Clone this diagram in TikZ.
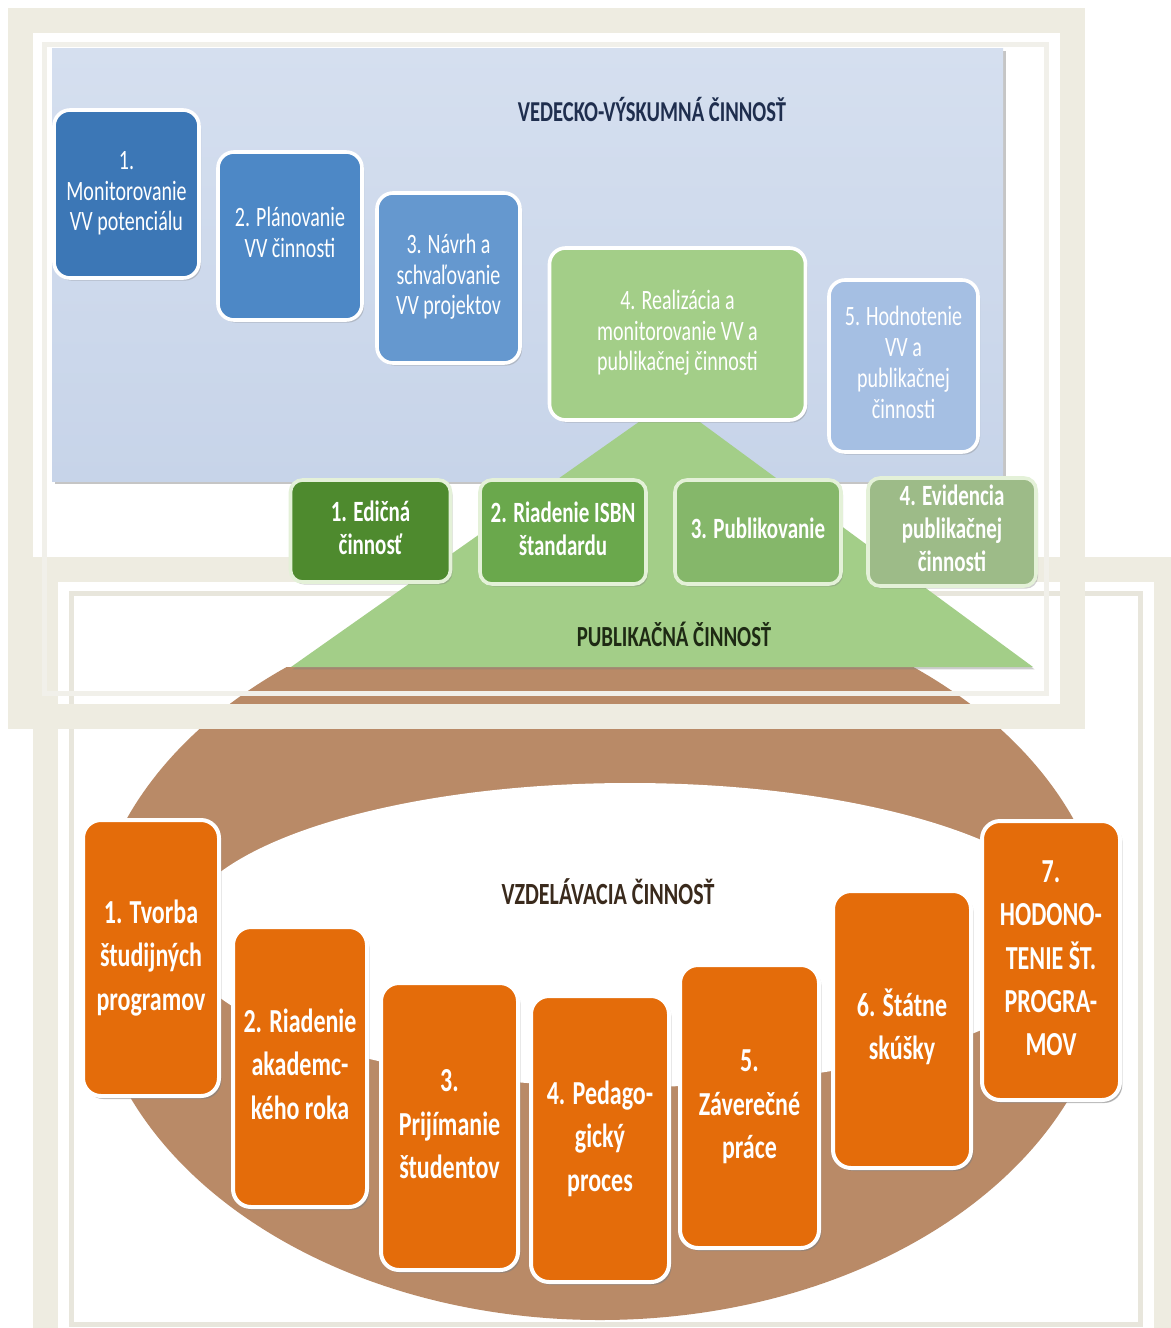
\documentclass[tikz,border=0pt]{standalone}
\usepackage{fontspec}
\setmainfont{Carlito}
\usepackage{graphicx}
\usetikzlibrary{shadows}
\definecolor{cream}{HTML}{EEECE1}
\definecolor{creamline}{HTML}{E8E6DC}
\definecolor{panelA}{HTML}{D5DFEF}
\definecolor{panelB}{HTML}{C7D4E9}
\definecolor{blueA}{HTML}{3C77B6}
\definecolor{blueB}{HTML}{4D88C6}
\definecolor{blueC}{HTML}{6598CF}
\definecolor{blueE}{HTML}{A5BFE3}
\definecolor{lgreen}{HTML}{A3CE88}
\definecolor{pubA}{HTML}{4E8A2E}
\definecolor{pubB}{HTML}{6AA84C}
\definecolor{pubC}{HTML}{85B76A}
\definecolor{pubD}{HTML}{9DBB88}
\definecolor{publine}{HTML}{E4F1D8}
\definecolor{ringbrown}{HTML}{B98A67}
\definecolor{orangebox}{HTML}{E46C0A}
\definecolor{navytxt}{HTML}{1F2E4E}
\definecolor{greentxt}{HTML}{1E2A14}
\definecolor{browntxt}{HTML}{3A2A1C}
\newcommand{\btxt}[4]{\scalebox{1}[#1]{\fontsize{#2}{#3}\selectfont\begin{tabular}{@{}c@{}}#4\end{tabular}}}
\begin{document}
\begin{tikzpicture}[x=0.5pt,y=-0.5pt,
  bx/.style={rounded corners=8pt, draw=white, line width=1.8pt, text=white, inner sep=0pt,
    drop shadow={shadow xshift=1pt, shadow yshift=-1.3pt, opacity=0.35}},
  bluebx/.style={bx},
  pubbx/.style={bx, draw=publine, rounded corners=6pt},
  orbx/.style={bx, fill=orangebox, rounded corners=9pt, line width=2pt,
    drop shadow={shadow xshift=1.2pt, shadow yshift=-1.5pt, opacity=0.45}},
  band/.style={draw=cream, line width=12.5pt},
  thin/.style={draw=creamline, line width=2.5pt},
  title/.style={inner sep=0pt, font=\bfseries}
]
\path[use as bounding box] (0,0) rectangle (1171,1328);
\clip (0,0) rectangle (1171,1328);
\fill[white] (0,0) rectangle (1171,1328);

% bottom frame
\draw[band] (45.5,569) rectangle (1166,1360);
\draw[thin] (71,593) rectangle (1140,1324);

% brown ring (only below the triangle base)
\begin{scope}
  \clip (0,667) rectangle (1171,1328);
  \fill[ringbrown] (600,955) ellipse [x radius=510, y radius=365];
  \fill[white] (630,935) ellipse [x radius=450, y radius=152];
\end{scope}

% top frame
\draw[band] (20.5,20.5) rectangle (1072.5,716);
\draw[thin, draw=creamline!60!white] (44,44) rectangle (1046,693);

% research panel
\fill[top color=panelA, bottom color=panelB,
  drop shadow={shadow xshift=1.5pt, shadow yshift=-1.5pt, opacity=0.45}]
  (52,48) rectangle (1003,481);

% publication triangle
\fill[lgreen, drop shadow={shadow xshift=0.8pt, shadow yshift=-1.2pt, opacity=0.4}]
  (291,667) -- (670,400) -- (1033,667) -- cycle;

% titles
\node[title, text=navytxt] (tv) at (652,114) {\btxt{1.4}{10.3pt}{12pt}{VEDECKO-VÝSKUMNÁ ČINNOSŤ}};
\node[title, text=greentxt] (tp) at (674,639) {\btxt{1.4}{10.4pt}{12pt}{PUBLIKAČNÁ ČINNOSŤ}};
\node[title, text=browntxt] (te) at (608,897) {\btxt{1.4}{11pt}{12pt}{VZDELÁVACIA ČINNOSŤ}};

% research boxes
\node[bluebx, fill=blueA, minimum width=72.5pt, minimum height=84pt] (b1) at (126.5,194)
  {\btxt{1.4}{10pt}{11pt}{1.\\Monitorovanie\\VV potenciálu}};
\node[bluebx, fill=blueB, minimum width=72pt, minimum height=84pt] (b2) at (290,236)
  {\btxt{1.4}{10pt}{11pt}{2. Plánovanie\\VV činnosti}};
\node[bluebx, fill=blueC, minimum width=71.5pt, minimum height=85pt] (b3) at (448.5,278)
  {\btxt{1.4}{10pt}{11pt}{3. Návrh a\\schvaľovanie\\VV projektov}};
\node[bluebx, fill=lgreen, minimum width=128pt, minimum height=86pt] (b4) at (677.5,334)
  {\btxt{1.4}{10pt}{11pt}{4. Realizácia a\\monitorovanie VV a\\publikačnej činnosti}};
\node[bluebx, fill=blueE, minimum width=74.5pt, minimum height=86pt] (b5) at (903.5,366)
  {\btxt{1.4}{10pt}{11pt}{5. Hodnotenie\\VV a\\publikačnej\\činnosti}};

% publication boxes
\node[pubbx, fill=pubA, minimum width=80pt, minimum height=51pt] (p1) at (370.5,531)
  {\btxt{1.4}{10.5pt}{11.8pt}{\bfseries 1. Edičná\\\bfseries činnosť}};
\node[pubbx, fill=pubB, minimum width=83pt, minimum height=52pt] (p2) at (563,532)
  {\btxt{1.4}{10.5pt}{11.8pt}{\bfseries 2. Riadenie ISBN\\\bfseries štandardu}};
\node[pubbx, fill=pubC, minimum width=83pt, minimum height=52pt] (p3) at (758,532)
  {\btxt{1.4}{10.5pt}{11.8pt}{\bfseries 3. Publikovanie}};
\node[pubbx, fill=pubD, minimum width=84pt, minimum height=54pt] (p4) at (952,532)
  {\btxt{1.4}{10.5pt}{11.8pt}{\bfseries 4. Evidencia\\\bfseries publikačnej\\\bfseries činnosti}};

% education boxes
\node[orbx, minimum width=68pt, minimum height=138pt] (o1) at (151,958)
  {\btxt{1.4}{12pt}{15.5pt}{\bfseries 1. Tvorba\\\bfseries študijných\\\bfseries programov}};
\node[orbx, minimum width=67pt, minimum height=140pt] (o2) at (300,1067)
  {\btxt{1.4}{12pt}{15.5pt}{\bfseries 2. Riadenie\\\bfseries akademc-\\\bfseries kého roka}};
\node[orbx, minimum width=68.5pt, minimum height=143.5pt] (o3) at (449.5,1126.5)
  {\btxt{1.4}{12pt}{15.5pt}{\bfseries 3.\\\bfseries Prijímanie\\\bfseries študentov}};
\node[orbx, minimum width=69pt, minimum height=143pt] (o4) at (600,1139)
  {\btxt{1.4}{12pt}{15.5pt}{\bfseries 4. Pedago-\\\bfseries gický\\\bfseries proces}};
\node[orbx, minimum width=69.5pt, minimum height=141.5pt] (o5) at (749.5,1106.5)
  {\btxt{1.4}{12pt}{15.5pt}{\bfseries 5.\\\bfseries Záverečné\\\bfseries práce}};
\node[orbx, minimum width=69pt, minimum height=138.5pt] (o6) at (902,1029.5)
  {\btxt{1.4}{12pt}{15.5pt}{\bfseries 6. Štátne\\\bfseries skúšky}};
\node[orbx, minimum width=69pt, minimum height=139.5pt] (o7) at (1051,960.5)
  {\btxt{1.4}{12pt}{15.5pt}{\bfseries 7.\\\bfseries HODONO-\\\bfseries TENIE ŠT.\\\bfseries PROGRA-\\\bfseries MOV}};
\end{tikzpicture}
\end{document}
